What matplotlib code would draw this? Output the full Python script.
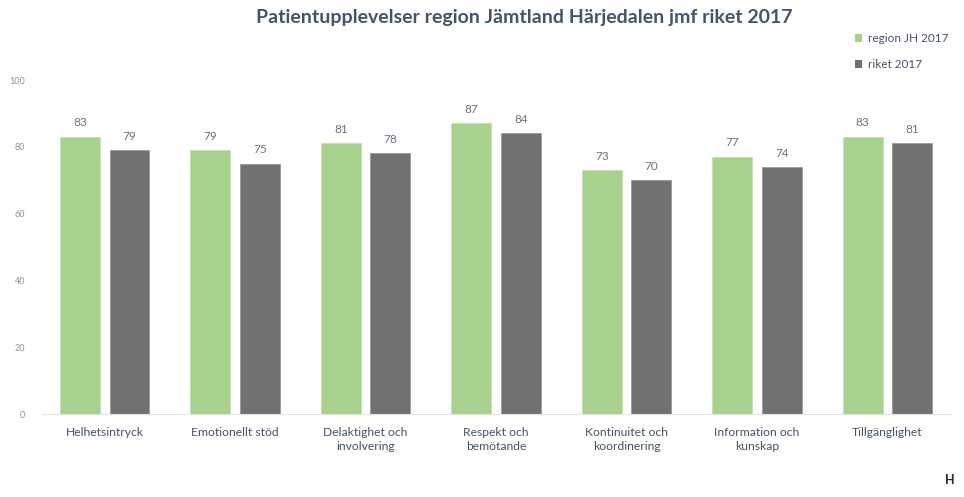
import numpy as np
import matplotlib
matplotlib.use("Agg")
import matplotlib.pyplot as plt
from matplotlib.patches import Patch

plt.rcParams['font.family'] = ['Lato', 'DejaVu Sans']

# data
categories = ["Helhetsintryck", "Emotionellt stöd", "Delaktighet och\ninvolvering",
              "Respekt och\nbemötande", "Kontinuitet och\nkoordinering",
              "Information och\nkunskap", "Tillgänglighet"]
region_jh = [83, 79, 81, 87, 73, 77, 83]
riket = [79, 75, 78, 84, 70, 74, 81]
series_names = ["region JH 2017", "riket 2017"]
yticks = [0, 20, 40, 60, 80, 100]

green = "#a9d18e"
grey = "#717171"
tick_col = "#8a94a6"
text_col = "#44546a"

fig = plt.figure(figsize=(9.64, 4.97), dpi=100)
ax = fig.add_axes([0.0436, 0.167, 0.942, 0.672])

x = np.arange(len(categories))
w = 0.305
off = 0.19
b1 = ax.bar(x - off, region_jh, w, color=green, edgecolor="#c5e0b4", linewidth=0.6)
b2 = ax.bar(x + off, riket, w, color=grey, edgecolor="#9a9a9a", linewidth=0.6)

for bars in (b1, b2):
    for b in bars:
        ax.text(b.get_x() + b.get_width() / 2, b.get_height() + 2.5, f"{int(b.get_height())}",
                ha="center", va="bottom", fontsize=8.5, color="#6a7180")

ax.set_xlim(-0.48, 6.48)
ax.set_ylim(0, 100)
ax.set_yticks(yticks)
ax.set_yticklabels([str(t) for t in yticks], fontsize=6.5, color=tick_col)
ax.set_xticks(x)
ax.set_xticklabels(categories, fontsize=8.7, color=text_col, linespacing=1.4)
ax.tick_params(axis="both", length=0)
ax.tick_params(axis="y", pad=12)
ax.tick_params(axis="x", pad=9)
for s in ("top", "right", "left"):
    ax.spines[s].set_visible(False)
ax.spines["bottom"].set_color("#e3e3e3")

fig.text(0.544, 0.964, "Patientupplevelser region Jämtland Härjedalen jmf riket 2017",
         ha="center", va="center", fontsize=14, fontweight="bold", color=text_col)

handles = [Patch(facecolor=green), Patch(facecolor=grey)]
fig.legend(handles, series_names, loc="upper right", bbox_to_anchor=(0.995, 0.955),
           frameon=False, fontsize=8.5, handlelength=0.6, handleheight=0.6,
           handletextpad=0.5, labelspacing=1.3, labelcolor=text_col)

fig.text(0.99, 0.035, "H", ha="right", va="center", fontsize=9, fontweight="bold",
         color="#2a2a2a")

fig.savefig("out.png", dpi=100)
